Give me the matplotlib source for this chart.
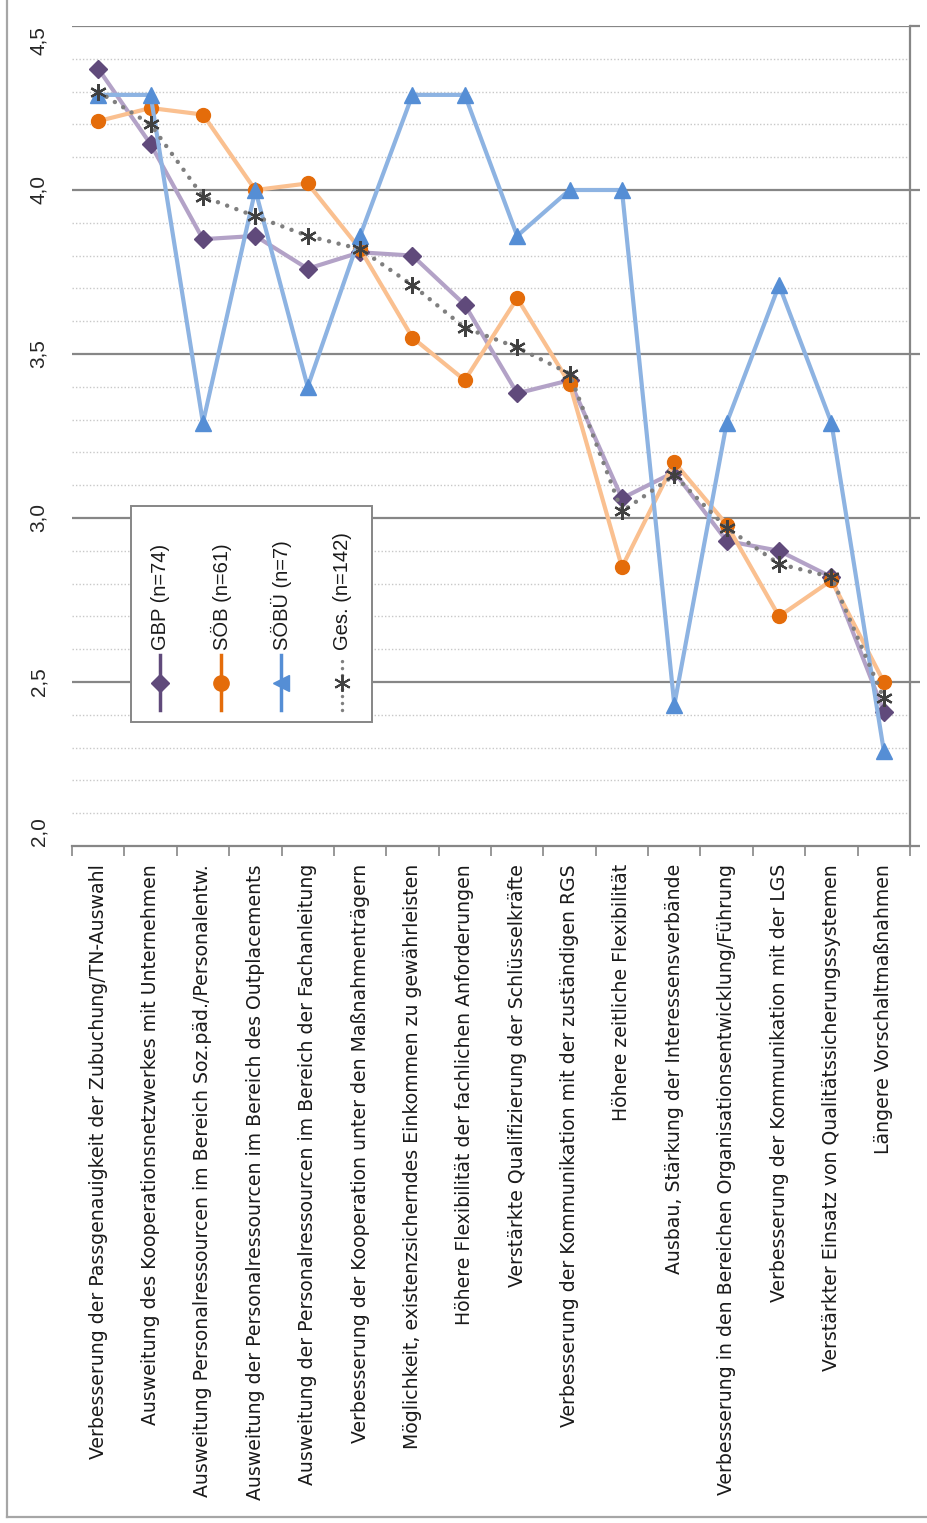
import matplotlib
matplotlib.use("Agg")
import matplotlib.pyplot as plt
from matplotlib.lines import Line2D
from matplotlib.patches import Rectangle
import numpy as np

categories = [
    "Verbesserung der Passgenauigkeit der Zubuchung/TN-Auswahl",
    "Ausweitung des Kooperationsnetzwerkes mit Unternehmen",
    "Ausweitung Personalressourcen im Bereich Soz.päd./Personalentw.",
    "Ausweitung der Personalressourcen im Bereich des Outplacements",
    "Ausweitung der Personalressourcen im Bereich der Fachanleitung",
    "Verbesserung der Kooperation unter den Maßnahmenträgern",
    "Möglichkeit, existenzsicherndes Einkommen zu gewährleisten",
    "Höhere Flexibilität der fachlichen Anforderungen",
    "Verstärkte Qualifizierung der Schlüsselkräfte",
    "Verbesserung der Kommunikation mit der zuständigen RGS",
    "Höhere zeitliche Flexibilität",
    "Ausbau, Stärkung der Interessensverbände",
    "Verbesserung in den Bereichen Organisationsentwicklung/Führung",
    "Verbesserung der Kommunikation mit der LGS",
    "Verstärkter Einsatz von Qualitätssicherungssystemen",
    "Längere Vorschaltmaßnahmen",
]

gbp = [4.37, 4.14, 3.85, 3.86, 3.76, 3.81, 3.80, 3.65, 3.38, 3.42, 3.06, 3.14, 2.93, 2.90, 2.82, 2.41]
soeb = [4.21, 4.25, 4.23, 4.00, 4.02, 3.82, 3.55, 3.42, 3.67, 3.41, 2.85, 3.17, 2.98, 2.70, 2.81, 2.50]
soebue = [4.29, 4.29, 3.29, 4.00, 3.40, 3.86, 4.29, 4.29, 3.86, 4.00, 4.00, 2.43, 3.29, 3.71, 3.29, 2.29]
ges = [4.30, 4.20, 3.98, 3.92, 3.86, 3.82, 3.71, 3.58, 3.52, 3.44, 3.02, 3.13, 2.97, 2.86, 2.82, 2.45]

series_labels = ["GBP (n=74)", "SÖB (n=61)", "SÖBÜ (n=7)", "Ges. (n=142)"]
y_ticks = [2.0, 2.5, 3.0, 3.5, 4.0, 4.5]
y_tick_labels = ["2,0", "2,5", "3,0", "3,5", "4,0", "4,5"]

W, H = 927, 1523
fig = plt.figure(figsize=(W / 100, H / 100), dpi=100)
ax = fig.add_axes([72 / W, 1 - 846 / H, (910 - 72) / W, (846 - 26) / H])

x = np.arange(len(categories))

# grid
for v in np.arange(2.1, 4.5, 0.1):
    if abs(v * 2 - round(v * 2)) > 1e-6:
        ax.axhline(v, color="#c8c8c8", lw=1.0, ls=(0, (1, 1.5)), zorder=0)
for v in y_ticks[1:]:
    ax.axhline(v, color="#868686", lw=1.6, zorder=0.5)

# series
ax.plot(x, gbp, color="#b3a2c7", lw=3, marker="D", ms=9, mfc="#604a7b", mec="#604a7b", zorder=3)
ax.plot(x, soeb, color="#fac090", lw=3, marker="o", ms=10, mfc="#e46c0a", mec="#e46c0a", zorder=3)
ax.plot(x, soebue, color="#8db3e2", lw=3, marker="^", ms=11, mfc="#558ed5", mec="#558ed5", zorder=3)
ax.plot(x, ges, color="#7f7f7f", lw=3.2, ls=(0, (0.01, 2.2)), dash_capstyle="round",
        marker=(6, 2, 0), ms=12, mec="#404040", mew=1.6, zorder=4)

ax.set_xlim(-0.5, len(categories) - 0.5)
ax.set_ylim(2.0, 4.5)

for s in ["left", "top"]:
    ax.spines[s].set_visible(False)
for s in ["right", "bottom"]:
    ax.spines[s].set_color("#868686")
    ax.spines[s].set_linewidth(1.6)

ax.set_yticks(y_ticks)
ax.set_yticklabels(y_tick_labels, rotation=90, va="center", fontsize=15,
                   family="Liberation Sans", color="#262626")
ax.tick_params(axis="y", left=False, right=True, labelleft=True, labelright=False,
               length=7, width=1.6, color="#868686", direction="out", pad=17)
ylabs = ax.get_yticklabels()
for lab in ylabs:
    lab.set_ha("center")
ylabs[0].set_va("bottom")
ylabs[-1].set_va("top")

ax.set_xticks(x)
ax.set_xticklabels(categories, rotation=90, ha="center", va="top", fontsize=13.6,
                   family="DejaVu Sans", color="#1a1a1a")
ax.set_xticks(np.arange(-0.5, len(categories), 1), minor=True)
ax.tick_params(axis="x", which="major", length=0, pad=13)
ax.tick_params(axis="x", which="minor", length=7, width=1.2, color="#868686", direction="out")

# custom legend (rotated entries)
def fx(px):
    return px / W

def fy(py):
    return 1 - py / H

fig.patches.append(Rectangle((fx(131), fy(722)), fx(372) - fx(131), fy(506) - fy(722),
                             transform=fig.transFigure, fill=True, fc="white",
                             ec="#868686", lw=1.4, zorder=10))
leg_x = [160, 221, 281, 342]
leg_styles = [
    dict(color="#604a7b", marker="D", ms=9, mfc="#604a7b", mec="#604a7b", ls="-", lw=2.5),
    dict(color="#e46c0a", marker="o", ms=11, mfc="#e46c0a", mec="#e46c0a", ls="-", lw=2.5),
    dict(color="#558ed5", marker="<", ms=11, mfc="#558ed5", mec="#558ed5", ls="-", lw=2.5),
    dict(color="#7f7f7f", marker=(6, 2, 0), ms=12, mec="#404040", mew=1.4,
         ls=(0, (0.01, 2.0)), lw=2.5, dash_capstyle="round"),
]
mkeys = ("marker", "ms", "mfc", "mec", "mew")
for lx, st, lab in zip(leg_x, leg_styles, series_labels):
    fig.add_artist(Line2D([fx(lx), fx(lx)], [fy(710), fy(655)], transform=fig.transFigure,
                          zorder=11, **{k: v for k, v in st.items() if k not in mkeys}))
    mk = {k: v for k, v in st.items() if k in mkeys}
    fig.add_artist(Line2D([fx(lx)], [fy(683)], transform=fig.transFigure, ls="none",
                          zorder=12, **mk))
    fig.text(fx(lx), fy(650), lab, rotation=90, ha="center", va="bottom", fontsize=14.5,
             family="Liberation Sans", color="#1a1a1a", zorder=12)

# outer frame (left and bottom visible)
fig.add_artist(Line2D([fx(6.5), fx(6.5)], [fy(0), fy(1517)], transform=fig.transFigure,
                      color="#a6a6a6", lw=1.6))
fig.add_artist(Line2D([fx(6.5), fx(927)], [fy(1517), fy(1517)], transform=fig.transFigure,
                      color="#a6a6a6", lw=1.6))

fig.savefig("out.png", dpi=100)
